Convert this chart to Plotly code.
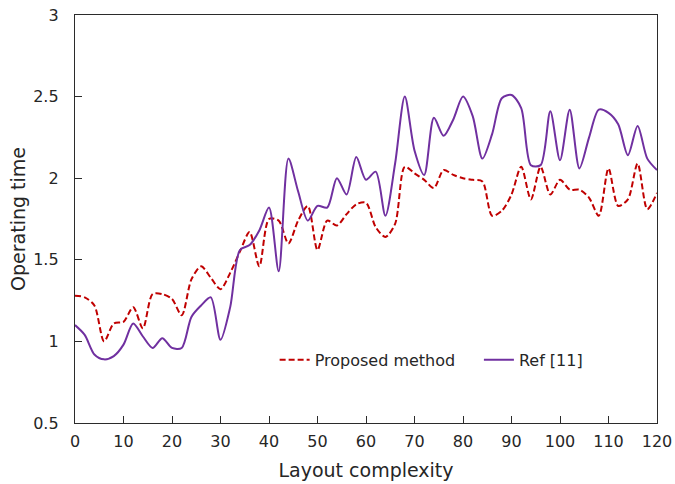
import plotly.graph_objects as go

x_vals = list(range(0, 121, 2))

proposed = [1.28, 1.27, 1.22, 1.00, 1.11, 1.12, 1.21, 1.08, 1.29, 1.29,
            1.26, 1.16, 1.38, 1.46, 1.39, 1.32, 1.42, 1.55, 1.67, 1.46,
            1.75, 1.74, 1.60, 1.74, 1.83, 1.56, 1.74, 1.71, 1.78, 1.84,
            1.85, 1.70, 1.64, 1.72, 2.07, 2.03, 1.99, 1.94, 2.05, 2.02,
            2.00, 1.99, 1.98, 1.77, 1.80, 1.90, 2.07, 1.87, 2.07, 1.90,
            1.99, 1.93, 1.93, 1.88, 1.77, 2.06, 1.83, 1.87, 2.09, 1.81,
            1.91]

ref11 = [1.10, 1.04, 0.92, 0.89, 0.91, 0.98, 1.11, 1.03, 0.96, 1.02,
         0.96, 0.96, 1.15, 1.22, 1.27, 1.01, 1.21, 1.56, 1.59, 1.68,
         1.82, 1.43, 2.12, 1.92, 1.74, 1.83, 1.82, 2.00, 1.90, 2.13,
         1.99, 2.04, 1.77, 2.09, 2.50, 2.17, 2.02, 2.37, 2.26, 2.36,
         2.50, 2.38, 2.12, 2.27, 2.49, 2.51, 2.43, 2.08, 2.08, 2.41,
         2.11, 2.42, 2.06, 2.25, 2.42, 2.40, 2.33, 2.14, 2.32, 2.12,
         2.05]

series_names = ["Proposed method", "Ref [11]"]
x_ticks = list(range(0, 121, 10))
y_ticks = [0.5, 1, 1.5, 2, 2.5, 3]
y_tick_text = ["0.5", "1", "1.5", "2", "2.5", "3"]

font = "DejaVu Sans, Verdana, sans-serif"
txt = "#262626"
axc = "#2b2b2b"

fig = go.Figure()
fig.add_trace(go.Scatter(
    x=x_vals, y=proposed, name=series_names[0], mode="lines", legend="legend",
    line=dict(color="#C00000", width=2, dash="6px,3px", shape="spline", smoothing=0.8),
))
fig.add_trace(go.Scatter(
    x=x_vals, y=ref11, name=series_names[1], mode="lines", legend="legend2",
    line=dict(color="#7030A0", width=2, shape="spline", smoothing=0.8),
))

leg_common = dict(orientation="h", yanchor="middle", xanchor="left",
                  bgcolor="rgba(0,0,0,0)", font=dict(size=16, color=txt))

fig.update_layout(
    width=675, height=484,
    margin=dict(l=75, r=18, t=15, b=61, autoexpand=False),
    paper_bgcolor="white", plot_bgcolor="white",
    font=dict(family=font, size=16, color=txt),
    showlegend=True,
    legend=dict(x=0.343, y=0.155, **leg_common),
    legend2=dict(x=0.694, y=0.155, **leg_common),
    xaxis=dict(range=[0, 120], tickvals=x_ticks, ticks="inside", ticklen=7,
               tickcolor=axc, tickwidth=1.3, showline=True, linecolor=axc, linewidth=1.3,
               mirror=True, showgrid=False, zeroline=False, automargin=False,
               title=dict(text="Layout complexity", standoff=13),
               ticklabelstandoff=4),
    yaxis=dict(range=[0.5, 3], tickvals=y_ticks, ticktext=y_tick_text,
               ticks="inside", ticklen=7,
               tickcolor=axc, tickwidth=1.3, showline=True, linecolor=axc, linewidth=1.3,
               mirror=True, showgrid=False, zeroline=False, automargin=False,
               title=dict(text="Operating time", standoff=2),
               ticklabelstandoff=12),
)

fig.write_html("out.html",
               config={"displayModeBar": False},
               post_script="document.body.style.margin='0';document.body.style.overflow='hidden';")
